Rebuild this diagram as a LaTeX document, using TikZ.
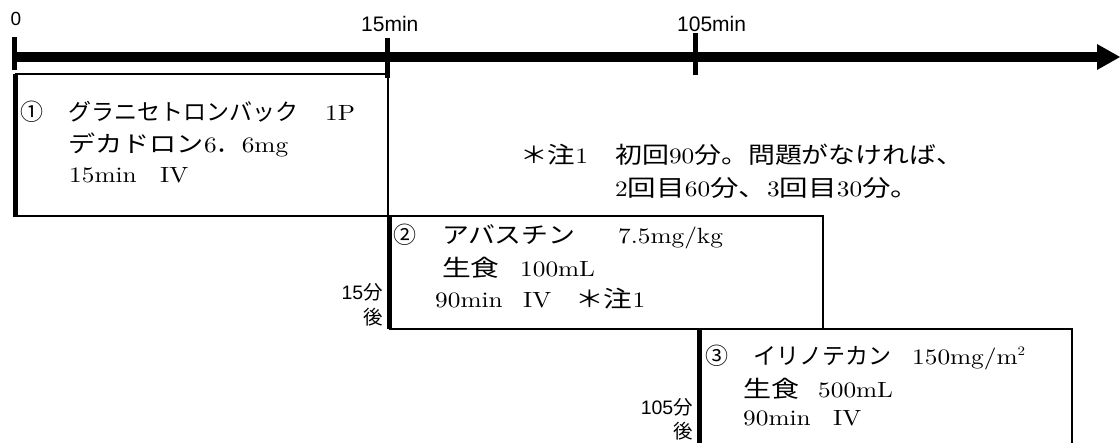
\documentclass[tikz,border=0pt]{standalone}
\usepackage{graphicx}
\usepackage{fontspec}
\setmainfont{lmroman10-regular}[Extension=.otf]
\newfontfamily\jp{Noto Sans CJK JP}
\newfontfamily\lblsans{Liberation Sans}
\def\cjksize{23}
\newcommand\J[2][1]{\scalebox{#1}[1]{\jp\fontsize{\cjksize}{\cjksize}\selectfont #2}}
\newcommand\JL[1]{{\jp #1}}
\newcommand\Lt[1]{\scalebox{1.15}[1]{#1}}
\newcommand\Seg[2]{\makebox[#1pt][l]{#2}}
\begin{document}
\begin{tikzpicture}[x=1pt,y=-1pt,
  txt/.style={inner sep=0pt, anchor=base west, font=\fontsize{22}{26}\selectfont\def\cjksize{23}},
  notetxt/.style={inner sep=0pt, anchor=base west, font=\fontsize{22}{26}\selectfont\def\cjksize{23}},
  lbl/.style={inner sep=0pt, anchor=base west, font=\lblsans\fontsize{21}{24}\selectfont},
  side/.style={inner sep=0pt, anchor=base east, font=\lblsans\fontsize{19.5}{22}\selectfont},
  thinedge/.style={line width=1.3pt},
  thickedge/.style={line width=5pt},
  tick/.style={line width=5pt}]
\useasboundingbox (0,0) rectangle (1120,443);
% time axis
\coordinate (axL) at (13,57);
\coordinate (axE) at (1099,57);
\coordinate (axT) at (1120,57);
\draw[line width=10pt] (axL) -- (axE);
\fill (1097,44) -- (axT) -- (1097,70) -- cycle;
% ticks
\draw[tick] (14.5,37) -- (14.5,70);
\draw[tick] (387.5,38) -- (387.5,78);
\draw[tick] (695.5,33) -- (695.5,75);
% tick labels
\node[inner sep=0pt, anchor=base, font=\lblsans\fontsize{19}{21}\selectfont] (l0) at (16,25.5) {0};
\node[lbl] (l15) at (361,32) {15min};
\node[lbl] (l105) at (677,32) {105min};
% box 1
\draw[thinedge] (15,74) -- (388,74) -- (388,216) -- (15,216);
\draw[thickedge] (15,74.5) -- (15,217);
\node[txt] (b1a) at (20,121) {\Seg{48}{\J{①}}\Seg{257}{\J{グラニセトロンバック}}\Lt{1P}};
\node[txt] (b1b) at (68,153) {\Seg{136}{\J[1.18]{デカドロン}}\Lt{6}\Seg{25}{\J{．}}\Lt{6mg}};
\node[txt] (b1c) at (69,183) {\Seg{91}{\Lt{15min}}\Lt{IV}};
% box 2
\draw[thinedge] (389,216) -- (823,216) -- (823,329) -- (389,329);
\draw[thickedge] (389.5,216) -- (389.5,329.5);
\node[txt] (b2a) at (393,244) {\Seg{49}{\J{②}}\Seg{176}{\J[1.17]{アバスチン}}\Lt{7.5mg/kg}};
\node[txt] (b2b) at (442,277) {\Seg{78}{\J[1.25]{生食}}\Lt{100mL}};
\node[txt] (b2c) at (435,308) {\Seg{88}{\Lt{90min}}\Seg{52}{\Lt{IV}}\J[1.25]{＊注}\Lt{1}};
\node[side] (s15a) at (383,300) {15\JL{分}};
\node[side] (s15b) at (383,325) {\JL{後}};
% box 3
\draw[thinedge] (699,329) -- (1072,329) -- (1072,443);
\draw[thickedge] (699.5,329) -- (699.5,443);
\node[txt] (b3a) at (705,365) {\Seg{48}{\J{③}}\Seg{159}{\J{イリノテカン}}\Lt{150mg/m}\raisebox{9pt}{\Lt{\fontsize{13}{13}\selectfont 2}}};
\node[txt] (b3b) at (743,398) {\Seg{75}{\J[1.22]{生食}}\Lt{500mL}};
\node[txt] (b3c) at (743,426) {\Seg{90}{\Lt{90min}}\Lt{IV}};
\node[side] (s105a) at (693,415) {105\JL{分}};
\node[side] (s105b) at (693,439) {\JL{後}};
% note
\node[notetxt] (n1) at (520,164) {\Seg{95}{\J[1.2]{＊注}\Lt{1}}\J[1.17]{初回}\Lt{90}\J[1.17]{分。問題がなければ、}};
\node[notetxt] (n2) at (615,197) {\Lt{2}\J[1.24]{回目}\Lt{60}\J[1.24]{分、}\Lt{3}\J[1.24]{回目}\Lt{30}\J[1.24]{分。}};
\end{tikzpicture}
\end{document}
